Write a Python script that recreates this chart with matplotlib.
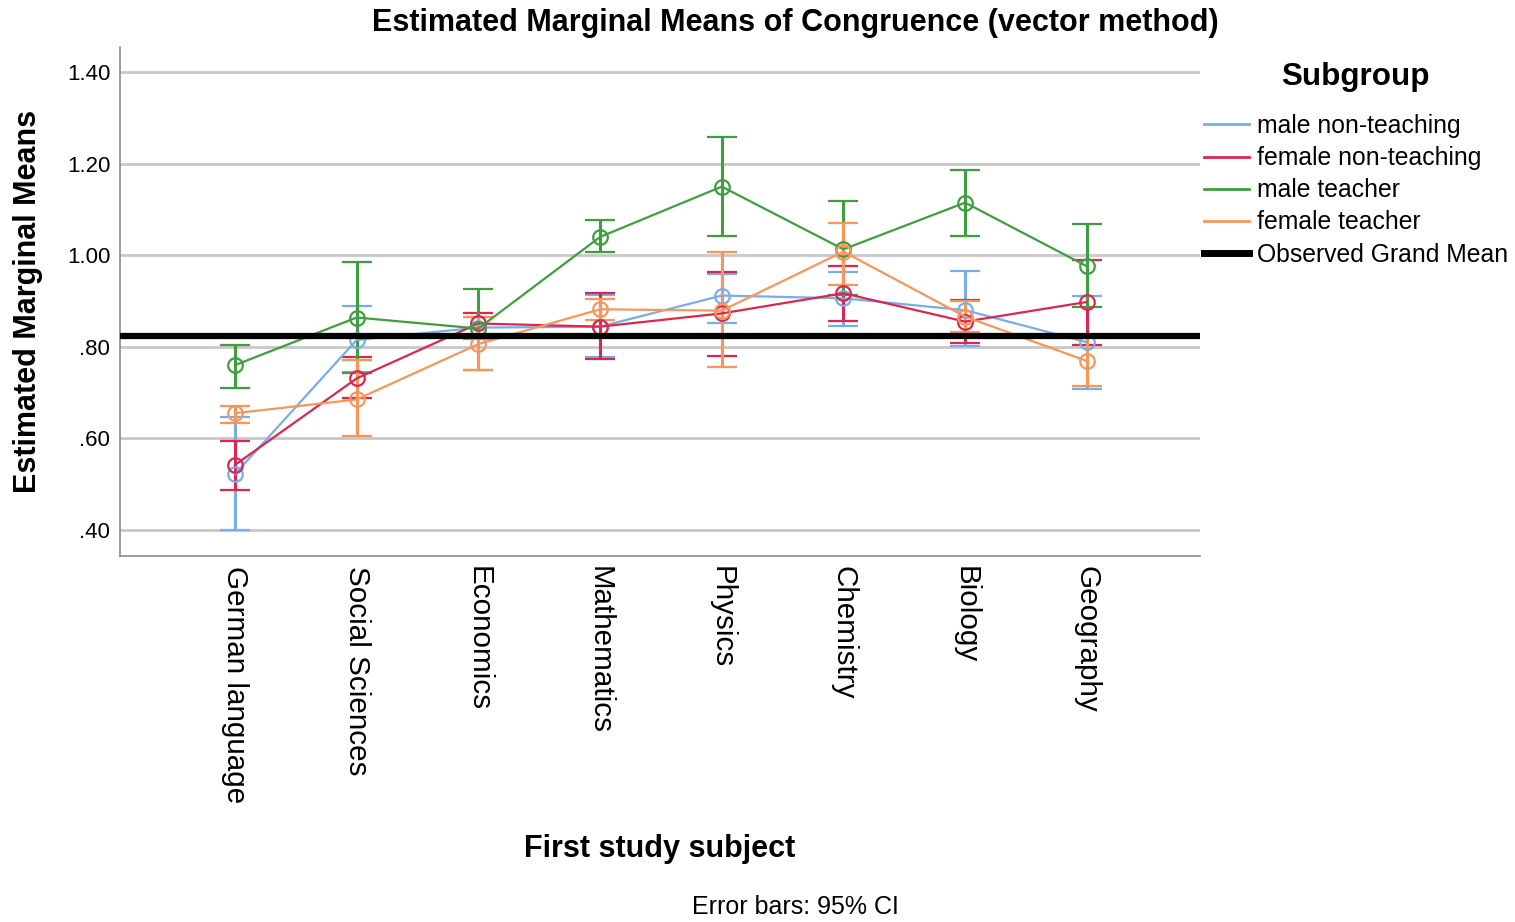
import matplotlib
matplotlib.use("Agg")
import matplotlib.pyplot as plt
from matplotlib.lines import Line2D
import numpy as np

FONT = "Liberation Sans"

categories = ["German language", "Social Sciences", "Economics", "Mathematics",
              "Physics", "Chemistry", "Biology", "Geography"]
series_names = ["male non-teaching", "female non-teaching", "male teacher", "female teacher"]
colors = ["#78aee8", "#dc2650", "#3f9e3f", "#f8965a"]

male_nt_mean = [0.522, 0.815, 0.842, 0.844, 0.912, 0.906, 0.880, 0.810]
male_nt_low = [0.400, 0.745, 0.818, 0.777, 0.853, 0.845, 0.802, 0.707]
male_nt_high = [0.646, 0.890, 0.866, 0.913, 0.960, 0.964, 0.966, 0.912]

female_nt_mean = [0.542, 0.731, 0.851, 0.844, 0.873, 0.917, 0.855, 0.898]
female_nt_low = [0.487, 0.688, 0.826, 0.773, 0.780, 0.856, 0.809, 0.805]
female_nt_high = [0.594, 0.778, 0.873, 0.917, 0.963, 0.976, 0.902, 0.990]

male_t_mean = [0.760, 0.864, 0.840, 1.040, 1.150, 1.013, 1.115, 0.976]
male_t_low = [0.709, 0.743, 0.749, 1.007, 1.043, 0.913, 1.042, 0.888]
male_t_high = [0.805, 0.985, 0.926, 1.077, 1.259, 1.118, 1.186, 1.068]

female_t_mean = [0.655, 0.685, 0.806, 0.882, 0.879, 1.008, 0.866, 0.769]
female_t_low = [0.633, 0.605, 0.749, 0.858, 0.755, 0.936, 0.833, 0.714]
female_t_high = [0.671, 0.771, 0.866, 0.904, 1.008, 1.071, 0.901, 0.826]

grand_mean = 0.824
yticks = [0.40, 0.60, 0.80, 1.00, 1.20, 1.40]
ytick_labels = [".40", ".60", ".80", "1.00", "1.20", "1.40"]

means = [male_nt_mean, female_nt_mean, male_t_mean, female_t_mean]
lows = [male_nt_low, female_nt_low, male_t_low, female_t_low]
highs = [male_nt_high, female_nt_high, male_t_high, female_t_high]

fig = plt.figure(figsize=(15.15, 9.22), dpi=100)
ax = fig.add_axes([120/1515, 1-556/922, 1080/1515, 509/922])

x = np.arange(len(categories))
for m, lo, hi, c in zip(means, lows, highs, colors):
    m = np.array(m); lo = np.array(lo); hi = np.array(hi)
    ax.errorbar(x, m, yerr=[m - lo, hi - m], color=c, lw=1.6, elinewidth=2.2,
                capsize=11, capthick=2.6, marker="o", markersize=10.5,
                markerfacecolor="none", markeredgecolor=c, markeredgewidth=1.6,
                zorder=3)

ax.axhline(grand_mean, color="black", lw=4.5, zorder=4)

ax.set_xlim(-0.945, 7.93)
ax.set_ylim(0.343, 1.455)
ax.set_yticks(yticks)
ax.set_yticklabels(ytick_labels, fontsize=16, family=FONT)
ax.set_xticks(x)
ax.set_xticklabels(categories, rotation=270, fontsize=21.3, family=FONT, va="top", ha="center")
ax.tick_params(axis="both", length=0)
ax.tick_params(axis="x", pad=7)
ax.tick_params(axis="y", pad=7)
ax.grid(axis="y", color="#c8c8c8", lw=2)
ax.set_axisbelow(True)
for s in ["top", "right"]:
    ax.spines[s].set_visible(False)
for s in ["left", "bottom"]:
    ax.spines[s].set_color("#8a8a8a")
    ax.spines[s].set_linewidth(1.2)

fig.text(795/1515, 1-23/922, "Estimated Marginal Means of Congruence (vector method)",
         ha="center", va="center", fontsize=22, fontweight="bold", family=FONT)
fig.text(28/1515, 1-301/922, "Estimated Marginal Means", rotation=90,
         ha="center", va="center", fontsize=22, fontweight="bold", family=FONT)
fig.text(660/1515, 1-849/922, "First study subject", ha="center", va="center",
         fontsize=22, fontweight="bold", family=FONT)
fig.text(795/1515, 1-907/922, "Error bars: 95% CI", ha="center", va="center",
         fontsize=18, family=FONT)

fig.text(1355/1515, 1-77/922, "Subgroup", ha="center", va="center",
         fontsize=22.6, fontweight="bold", family=FONT)

handles = [Line2D([0], [0], color=c, lw=2) for c in colors]
handles.append(Line2D([0], [0], color="black", lw=5))
leg = fig.legend(handles, series_names + ["Observed Grand Mean"],
                 loc="upper left", bbox_to_anchor=(1204/1515, 1-114/922),
                 frameon=False, prop={"family": FONT, "size": 17.8},
                 handlelength=1.82, handletextpad=0.32,
                 labelspacing=0.33, borderaxespad=0, borderpad=0)

fig.savefig("out.png", dpi=100)
